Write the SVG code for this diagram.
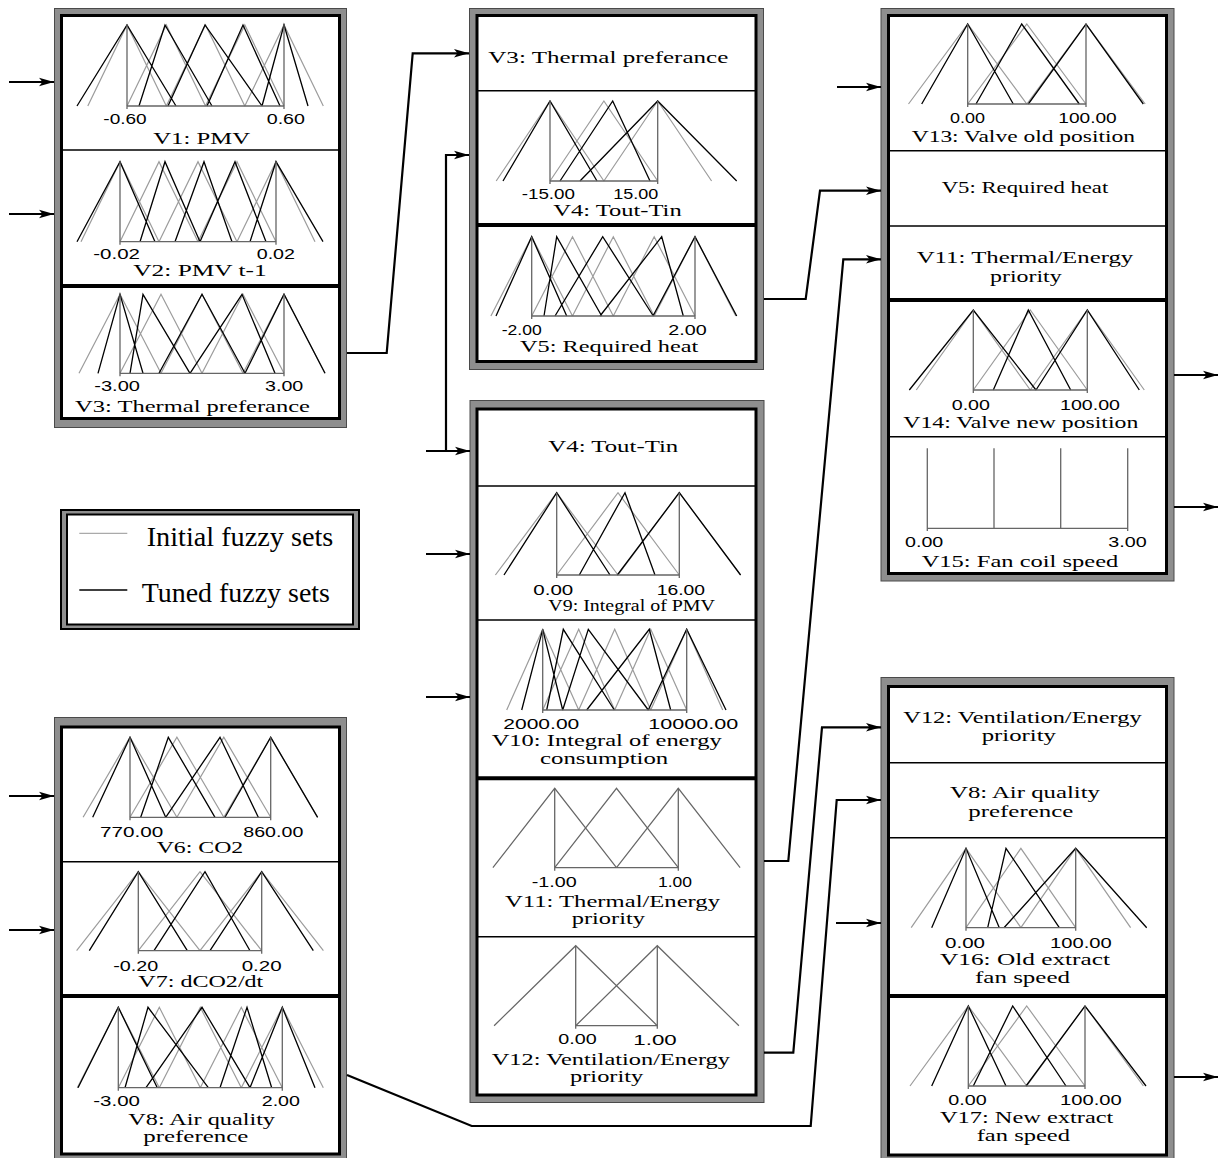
<svg xmlns="http://www.w3.org/2000/svg" width="1218" height="1158" viewBox="0 0 1218 1158">
<style>
.bg{fill:#fff}
.frame{fill:#8e8e8e;stroke:#4a4a4a;stroke-width:1}
.inner{fill:#fff;stroke:#000;stroke-width:3}
.sep{stroke:#000;stroke-width:1.5}
.sepk{stroke:#000;stroke-width:4}
.ini{fill:none;stroke:#9c9c9c;stroke-width:1.2}
.ini2{fill:none;stroke:#666;stroke-width:1.2}
.tun{fill:none;stroke:#000;stroke-width:1.3}
.ax{fill:none;stroke:#666;stroke-width:1.3}
.conn{fill:none;stroke:#000;stroke-width:2.2}
.t{font-family:"Liberation Serif","Times New Roman",serif;font-size:17px;fill:#000}
.n{font-family:"Liberation Sans",Arial,sans-serif;font-size:14px;fill:#000}
.lg{font-family:"Liberation Serif","Times New Roman",serif;font-size:27px;fill:#000}
</style>
<defs>
<marker id="ah" markerUnits="userSpaceOnUse" markerWidth="16" markerHeight="10" refX="15" refY="5" orient="auto"><path d="M0,0.8 L15,5 L0,9.2 L3.5,5 Z" fill="#000"/></marker>
</defs>
<rect class="bg" x="0" y="0" width="1218" height="1158"/>

<g id="module-inputs-thermal">
<rect class="frame" x="54.5" y="8.5" width="292" height="419"/>
<rect class="inner" x="61.5" y="15.5" width="278" height="403"/>
<line class="sep" x1="61.5" y1="150" x2="339.5" y2="150"/>
<line class="sepk" x1="61.5" y1="286" x2="339.5" y2="286"/>
<path class="ini" d="M87.8,106L127,25L166.3,106 M127,106L166.3,25L205.5,106 M166.3,106L205.5,25L244.8,106 M205.5,106L244.8,25L284,106 M244.8,106L284,25L323.3,106"/>
<path class="tun" d="M77,106L127,25L176,106 M139,106L165,25L212,106 M168,106L205,25L262,106 M207,106L243,25L280,106 M262,106L284,25L308,106"/>
<path class="ax" d="M127,25V109 M284,25V109 M127,106H284"/>
<path class="ini" d="M81,241.7L120,161.7L159,241.7 M120,241.7L159,161.7L198,241.7 M159,241.7L198,161.7L237,241.7 M198,241.7L237,161.7L276,241.7 M237,241.7L276,161.7L315,241.7"/>
<path class="tun" d="M77,241.7L120,161.7L155,241.7 M140,241.7L165,161.7L200,241.7 M175,241.7L204,161.7L232,241.7 M200,241.7L235,161.7L266,241.7 M250,241.7L276,161.7L323,241.7"/>
<path class="ax" d="M120,161.7V244.7 M276,161.7V244.7 M120,241.7H276"/>
<path class="ini" d="M79,373.3L120,294.3L161,373.3 M120,373.3L161,294.3L202,373.3 M161,373.3L202,294.3L243,373.3 M202,373.3L243,294.3L284,373.3 M243,373.3L284,294.3L325,373.3"/>
<path class="tun" d="M98,373.3L120,294.3L143,373.3 M130,373.3L143,294.3L190,373.3 M159,373.3L202,294.3L245,373.3 M190,373.3L242,294.3L275,373.3 M245,373.3L284,294.3L325,373.3"/>
<path class="ax" d="M120,294.3V376.3 M284,294.3V376.3 M120,373.3H284"/>
<text class="n" x="103.3" y="124" textLength="43.4" lengthAdjust="spacingAndGlyphs">-0.60</text>
<text class="n" x="266.7" y="124" textLength="38.3" lengthAdjust="spacingAndGlyphs">0.60</text>
<text class="t" x="153.3" y="144" textLength="96.7" lengthAdjust="spacingAndGlyphs">V1: PMV</text>
<text class="n" x="93.3" y="259.3" textLength="46.7" lengthAdjust="spacingAndGlyphs">-0.02</text>
<text class="n" x="256.7" y="259.3" textLength="38.3" lengthAdjust="spacingAndGlyphs">0.02</text>
<text class="t" x="133.3" y="276" textLength="133.4" lengthAdjust="spacingAndGlyphs">V2: PMV t-1</text>
<text class="n" x="94.3" y="390.7" textLength="45.7" lengthAdjust="spacingAndGlyphs">-3.00</text>
<text class="n" x="265" y="390.7" textLength="38.3" lengthAdjust="spacingAndGlyphs">3.00</text>
<text class="t" x="75" y="411.7" textLength="235" lengthAdjust="spacingAndGlyphs">V3: Thermal preferance</text>
</g>

<g id="module-required-heat">
<rect class="frame" x="469.5" y="8.5" width="294" height="361"/>
<rect class="inner" x="477" y="15.5" width="279" height="346"/>
<line class="sep" x1="477" y1="90.7" x2="756" y2="90.7"/>
<line class="sepk" x1="477" y1="225" x2="756" y2="225"/>
<path class="ini" d="M496.2,181L550,101L603.9,181 M550,181L603.9,101L657.7,181 M603.9,181L657.7,101L711.6,181"/>
<path class="tun" d="M503,181L550,101L597,181 M560,181L612.7,101L650,181 M580,181L657.7,101L736.7,181"/>
<path class="ax" d="M550,101V184 M657.7,101V184 M550,181H657.7"/>
<path class="ini" d="M490.9,316L531.7,236.7L572.5,316 M531.7,316L572.5,236.7L613.3,316 M572.5,316L613.3,236.7L654.2,316 M613.3,316L654.2,236.7L695,316 M654.2,316L695,236.7L735.8,316"/>
<path class="tun" d="M496,316L531.7,236.7L566.7,316 M544,316L556.7,236.7L601.7,316 M555,316L602.7,236.7L653.3,316 M600,316L661.7,236.7L683.3,316 M653,316L695,236.7L736.7,316"/>
<path class="ax" d="M531.7,236.7V319 M695,236.7V319 M531.7,316H695"/>
<text class="t" x="488.3" y="62.7" textLength="240" lengthAdjust="spacingAndGlyphs">V3: Thermal preferance</text>
<text class="n" x="521.7" y="199.3" textLength="53.3" lengthAdjust="spacingAndGlyphs">-15.00</text>
<text class="n" x="613.3" y="199.3" textLength="45" lengthAdjust="spacingAndGlyphs">15.00</text>
<text class="t" x="553.3" y="216" textLength="128.4" lengthAdjust="spacingAndGlyphs">V4: Tout-Tin</text>
<text class="n" x="501.7" y="335" textLength="40" lengthAdjust="spacingAndGlyphs">-2.00</text>
<text class="n" x="668.3" y="335" textLength="38.4" lengthAdjust="spacingAndGlyphs">2.00</text>
<text class="t" x="520" y="351.7" textLength="178.3" lengthAdjust="spacingAndGlyphs">V5: Required heat</text>
</g>

<g id="module-priorities">
<rect class="frame" x="470" y="400.5" width="294" height="702"/>
<rect class="inner" x="477" y="409" width="279" height="686"/>
<line class="sep" x1="477" y1="486" x2="756" y2="486"/>
<line class="sep" x1="477" y1="620" x2="756" y2="620"/>
<line class="sepk" x1="477" y1="778.3" x2="756" y2="778.3"/>
<line class="sep" x1="477" y1="936.7" x2="756" y2="936.7"/>
<path class="ini" d="M495.4,575L556.7,492.7L618,575 M556.7,575L618,492.7L679.3,575 M618,575L679.3,492.7L740.6,575"/>
<path class="tun" d="M504,575L556.7,492.7L610,575 M579.3,575L625,492.7L655,575 M617.3,575L679.3,492.7L740.6,575"/>
<path class="ax" d="M556.7,492.7V578 M679.3,492.7V578 M556.7,575H679.3"/>
<path class="ini" d="M506.7,710L542.7,629.3L578.7,710 M542.7,710L578.7,629.3L614.7,710 M578.7,710L614.7,629.3L650.7,710 M614.7,710L650.7,629.3L686.7,710 M650.7,710L686.7,629.3L722.7,710"/>
<path class="tun" d="M521.7,710L542.7,629.3L562.7,710 M546.7,710L563.3,629.3L614.3,710 M562.7,710L588.3,629.3L648.3,710 M586.7,710L649.3,629.3L670.7,710 M648.3,710L686.7,629.3L726,710"/>
<path class="ax" d="M542.7,629.3V713 M686.7,629.3V713 M542.7,710H686.7"/>
<path class="ini2" d="M492.9,867.7L554.7,788.3L616.5,867.7 M554.7,867.7L616.5,788.3L678.3,867.7 M616.5,867.7L678.3,788.3L740.1,867.7"/>
<path class="ax" d="M554.7,788.3V870.7 M678.3,788.3V870.7 M554.7,867.7H678.3"/>
<path class="ini2" d="M494.1,1025.7L575.7,945.7L657.3,1025.7 M575.7,1025.7L657.3,945.7L738.9,1025.7"/>
<path class="ax" d="M575.7,945.7V1028.7 M657.3,945.7V1028.7 M575.7,1025.7H657.3"/>
<text class="t" x="548.3" y="452.3" textLength="130" lengthAdjust="spacingAndGlyphs">V4: Tout-Tin</text>
<text class="n" x="533.3" y="595" textLength="40" lengthAdjust="spacingAndGlyphs">0.00</text>
<text class="n" x="656.7" y="595" textLength="48.3" lengthAdjust="spacingAndGlyphs">16.00</text>
<text class="t" x="548.3" y="610.7" textLength="166.7" lengthAdjust="spacingAndGlyphs">V9: Integral of PMV</text>
<text class="n" x="503.3" y="729" textLength="76" lengthAdjust="spacingAndGlyphs">2000.00</text>
<text class="n" x="648.3" y="729" textLength="90" lengthAdjust="spacingAndGlyphs">10000.00</text>
<text class="t" x="491.7" y="746" textLength="230" lengthAdjust="spacingAndGlyphs">V10: Integral of energy</text>
<text class="t" x="540" y="764" textLength="128.3" lengthAdjust="spacingAndGlyphs">consumption</text>
<text class="n" x="531.7" y="886.7" textLength="45" lengthAdjust="spacingAndGlyphs">-1.00</text>
<text class="n" x="658" y="886.7" textLength="34" lengthAdjust="spacingAndGlyphs">1.00</text>
<text class="t" x="505" y="906.7" textLength="215" lengthAdjust="spacingAndGlyphs">V11: Thermal/Energy</text>
<text class="t" x="571.7" y="923.5" textLength="73.3" lengthAdjust="spacingAndGlyphs">priority</text>
<text class="n" x="558.3" y="1044" textLength="38.4" lengthAdjust="spacingAndGlyphs">0.00</text>
<text class="n" x="633.3" y="1045" textLength="43.4" lengthAdjust="spacingAndGlyphs">1.00</text>
<text class="t" x="491.7" y="1065" textLength="238.3" lengthAdjust="spacingAndGlyphs">V12: Ventilation/Energy</text>
<text class="t" x="570" y="1081.7" textLength="73.3" lengthAdjust="spacingAndGlyphs">priority</text>
</g>

<g id="module-valve-fancoil">
<rect class="frame" x="881" y="8.5" width="293" height="572.5"/>
<rect class="inner" x="888.5" y="15.5" width="278" height="558"/>
<line class="sep" x1="888.5" y1="150.7" x2="1166.5" y2="150.7"/>
<line class="sep" x1="888.5" y1="226" x2="1166.5" y2="226"/>
<line class="sepk" x1="888.5" y1="300" x2="1166.5" y2="300"/>
<line class="sep" x1="888.5" y1="436.7" x2="1166.5" y2="436.7"/>
<path class="ini" d="M908.5,104L967.7,24L1026.8,104 M967.7,104L1026.8,24L1086,104 M1026.8,104L1086,24L1145.2,104"/>
<path class="tun" d="M921.7,104L967.7,24L1013.3,104 M976,104L1021.7,24L1079.3,104 M1028.3,104L1086,24L1143.3,104"/>
<path class="ax" d="M967.7,24V107 M1086,24V107 M967.7,104H1086"/>
<path class="ini" d="M916.3,390L973.3,310L1030.3,390 M973.3,390L1030.3,310L1087.3,390 M1030.3,390L1087.3,310L1144.3,390"/>
<path class="tun" d="M909.3,390L973.3,310L1036,390 M993.3,390L1028.3,310L1070.7,390 M1036,390L1087.3,310L1139.3,390"/>
<path class="ax" d="M973.3,310V393 M1087.3,310V393 M973.3,390H1087.3"/>
<path class="ax" d="M927.3,448.3V531 M994,448.3V528.3 M1060.7,448.3V528.3 M1127.7,448.3V531 M927.3,528.3H1127.7"/>
<text class="n" x="950" y="122.7" textLength="35" lengthAdjust="spacingAndGlyphs">0.00</text>
<text class="n" x="1058.3" y="122.7" textLength="58.4" lengthAdjust="spacingAndGlyphs">100.00</text>
<text class="t" x="911.7" y="141.7" textLength="223.3" lengthAdjust="spacingAndGlyphs">V13: Valve old position</text>
<text class="t" x="941.7" y="192.7" textLength="166.6" lengthAdjust="spacingAndGlyphs">V5: Required heat</text>
<text class="t" x="916.7" y="263.3" textLength="216.6" lengthAdjust="spacingAndGlyphs">V11: Thermal/Energy</text>
<text class="t" x="990" y="281.7" textLength="71.7" lengthAdjust="spacingAndGlyphs">priority</text>
<text class="n" x="951.7" y="410" textLength="38.3" lengthAdjust="spacingAndGlyphs">0.00</text>
<text class="n" x="1060" y="410" textLength="60" lengthAdjust="spacingAndGlyphs">100.00</text>
<text class="t" x="903.3" y="428.3" textLength="235" lengthAdjust="spacingAndGlyphs">V14: Valve new position</text>
<text class="n" x="905" y="547.3" textLength="38.3" lengthAdjust="spacingAndGlyphs">0.00</text>
<text class="n" x="1108.3" y="547.3" textLength="38.4" lengthAdjust="spacingAndGlyphs">3.00</text>
<text class="t" x="921.7" y="566.7" textLength="196.6" lengthAdjust="spacingAndGlyphs">V15: Fan coil speed</text>
</g>

<g id="module-extract-fan">
<rect class="frame" x="881" y="677.5" width="293" height="490"/>
<rect class="inner" x="888.5" y="686.5" width="278" height="468.5"/>
<line class="sep" x1="888.5" y1="762.7" x2="1166.5" y2="762.7"/>
<line class="sep" x1="888.5" y1="837.7" x2="1166.5" y2="837.7"/>
<line class="sepk" x1="888.5" y1="996" x2="1166.5" y2="996"/>
<path class="ini" d="M911.2,927.7L966,848.3L1020.9,927.7 M966,927.7L1020.9,848.3L1075.7,927.7 M1020.9,927.7L1075.7,848.3L1130.6,927.7"/>
<path class="tun" d="M931.7,927.7L966,848.3L999.3,927.7 M987.7,927.7L1006,848.3L1059.3,927.7 M1004,927.7L1075.7,848.3L1146.7,927.7"/>
<path class="ax" d="M966,848.3V930.7 M1075.7,848.3V930.7 M966,927.7H1075.7"/>
<path class="ini" d="M910,1086L968.3,1006L1026.7,1086 M968.3,1086L1026.7,1006L1085,1086 M1026.7,1086L1085,1006L1143.4,1086"/>
<path class="tun" d="M931.7,1086L968.3,1006L1006,1086 M973.3,1086L1012.7,1006L1066,1086 M1026,1086L1085,1006L1146,1086"/>
<path class="ax" d="M968.3,1006V1089 M1085,1006V1089 M968.3,1086H1085"/>
<text class="t" x="903.3" y="723.3" textLength="238.4" lengthAdjust="spacingAndGlyphs">V12: Ventilation/Energy</text>
<text class="t" x="981.7" y="740.7" textLength="74.3" lengthAdjust="spacingAndGlyphs">priority</text>
<text class="t" x="950" y="797.7" textLength="150" lengthAdjust="spacingAndGlyphs">V8: Air quality</text>
<text class="t" x="968.3" y="816.5" textLength="105" lengthAdjust="spacingAndGlyphs">preference</text>
<text class="n" x="945" y="947.7" textLength="40" lengthAdjust="spacingAndGlyphs">0.00</text>
<text class="n" x="1050" y="947.7" textLength="61.7" lengthAdjust="spacingAndGlyphs">100.00</text>
<text class="t" x="940" y="965" textLength="170" lengthAdjust="spacingAndGlyphs">V16: Old extract</text>
<text class="t" x="975" y="983.3" textLength="95" lengthAdjust="spacingAndGlyphs">fan speed</text>
<text class="n" x="948.3" y="1105" textLength="38.4" lengthAdjust="spacingAndGlyphs">0.00</text>
<text class="n" x="1060" y="1105" textLength="61.7" lengthAdjust="spacingAndGlyphs">100.00</text>
<text class="t" x="940" y="1123.3" textLength="173.3" lengthAdjust="spacingAndGlyphs">V17: New extract</text>
<text class="t" x="976.7" y="1140.7" textLength="93.3" lengthAdjust="spacingAndGlyphs">fan speed</text>
</g>

<g id="module-inputs-air">
<rect class="frame" x="54.5" y="717.5" width="292" height="450"/>
<rect class="inner" x="61.5" y="727" width="278" height="427"/>
<line class="sep" x1="61.5" y1="861.7" x2="339.5" y2="861.7"/>
<line class="sepk" x1="61.5" y1="996" x2="339.5" y2="996"/>
<path class="ini" d="M83.1,817.3L130,737.3L176.9,817.3 M130,817.3L176.9,737.3L223.8,817.3 M176.9,817.3L223.8,737.3L270.7,817.3 M223.8,817.3L270.7,737.3L317.6,817.3"/>
<path class="tun" d="M92.7,817.3L130,737.3L165.7,817.3 M140.7,817.3L168.3,737.3L215,817.3 M165.7,817.3L220,737.3L258.3,817.3 M225,817.3L270.7,737.3L317.6,817.3"/>
<path class="ax" d="M130,737.3V820.3 M270.7,737.3V820.3 M130,817.3H270.7"/>
<path class="ini" d="M76.6,950.7L138.3,871.7L200,950.7 M138.3,950.7L200,871.7L261.7,950.7 M200,950.7L261.7,871.7L323.4,950.7"/>
<path class="tun" d="M89.3,950.7L138.3,871.7L187.3,950.7 M154,950.7L205,871.7L250,950.7 M210,950.7L261.7,871.7L313.3,950.7"/>
<path class="ax" d="M138.3,871.7V953.7 M261.7,871.7V953.7 M138.3,950.7H261.7"/>
<path class="ini" d="M77.3,1087.7L118.3,1007.3L159.3,1087.7 M118.3,1087.7L159.3,1007.3L200.3,1087.7 M159.3,1087.7L200.3,1007.3L241.3,1087.7 M200.3,1087.7L241.3,1007.3L282.3,1087.7 M241.3,1087.7L282.3,1007.3L323.3,1087.7"/>
<path class="tun" d="M78,1087.7L118.3,1007.3L157.3,1087.7 M125,1087.7L148,1007.3L208.3,1087.7 M146,1087.7L202,1007.3L250,1087.7 M220,1087.7L247,1007.3L271.7,1087.7 M250,1087.7L282.3,1007.3L315,1087.7"/>
<path class="ax" d="M118.3,1007.3V1090.7 M282.3,1007.3V1090.7 M118.3,1087.7H282.3"/>
<text class="n" x="100" y="836.7" textLength="63.3" lengthAdjust="spacingAndGlyphs">770.00</text>
<text class="n" x="243.3" y="836.7" textLength="60" lengthAdjust="spacingAndGlyphs">860.00</text>
<text class="t" x="156.7" y="852.7" textLength="86.6" lengthAdjust="spacingAndGlyphs">V6: CO2</text>
<text class="n" x="113.3" y="970.7" textLength="45" lengthAdjust="spacingAndGlyphs">-0.20</text>
<text class="n" x="241.7" y="970.7" textLength="40" lengthAdjust="spacingAndGlyphs">0.20</text>
<text class="t" x="138.3" y="987.3" textLength="125" lengthAdjust="spacingAndGlyphs">V7: dCO2/dt</text>
<text class="n" x="93.3" y="1106" textLength="46.7" lengthAdjust="spacingAndGlyphs">-3.00</text>
<text class="n" x="261.7" y="1106" textLength="38.3" lengthAdjust="spacingAndGlyphs">2.00</text>
<text class="t" x="128.3" y="1124.5" textLength="146.7" lengthAdjust="spacingAndGlyphs">V8: Air quality</text>
<text class="t" x="143.3" y="1141.5" textLength="105" lengthAdjust="spacingAndGlyphs">preference</text>
</g>

<g id="legend">
<rect x="61" y="510" width="298" height="119" fill="#8e8e8e" stroke="#000" stroke-width="2"/>
<rect x="67" y="514.5" width="286" height="110" fill="#fff" stroke="#000" stroke-width="2"/>
<line x1="79.3" y1="533.3" x2="127.3" y2="533.3" stroke="#aaa" stroke-width="1.3"/>
<line x1="79.3" y1="590" x2="127.3" y2="590" stroke="#000" stroke-width="1.3"/>
<text class="lg" x="146.7" y="546" textLength="186.6" lengthAdjust="spacingAndGlyphs">Initial fuzzy sets</text>
<text class="lg" x="141.7" y="601.7" textLength="188.3" lengthAdjust="spacingAndGlyphs">Tuned fuzzy sets</text>
</g>

<g id="connectors">
<line class="conn" x1="9" y1="82" x2="54" y2="82" marker-end="url(#ah)"/>
<line class="conn" x1="9" y1="214" x2="54" y2="214" marker-end="url(#ah)"/>
<line class="conn" x1="9" y1="796" x2="54" y2="796" marker-end="url(#ah)"/>
<line class="conn" x1="9" y1="930" x2="54" y2="930" marker-end="url(#ah)"/>
<polyline class="conn" points="347,353 386.7,353 412.7,53.3 469,53.3" marker-end="url(#ah)"/>
<polyline class="conn" points="446,451 446,155 469,155" marker-end="url(#ah)"/>
<line class="conn" x1="426" y1="451" x2="470" y2="451" marker-end="url(#ah)"/>
<line class="conn" x1="426" y1="554" x2="470" y2="554" marker-end="url(#ah)"/>
<line class="conn" x1="426" y1="697" x2="470" y2="697" marker-end="url(#ah)"/>
<polyline class="conn" points="764,299 805.7,299 820,190.7 881,190.7" marker-end="url(#ah)"/>
<line class="conn" x1="837" y1="87" x2="881" y2="87" marker-end="url(#ah)"/>
<polyline class="conn" points="764,861 788.3,861 843.3,259.3 881,259.3" marker-end="url(#ah)"/>
<polyline class="conn" points="764,1052.7 793.3,1052.7 822,727.3 881,727.3" marker-end="url(#ah)"/>
<polyline class="conn" points="347,1075 471.7,1126 810.7,1126 836.7,800 881,800" marker-end="url(#ah)"/>
<line class="conn" x1="836" y1="923" x2="881" y2="923" marker-end="url(#ah)"/>
<line class="conn" x1="1174" y1="375" x2="1218" y2="375" marker-end="url(#ah)"/>
<line class="conn" x1="1174" y1="507" x2="1218" y2="507" marker-end="url(#ah)"/>
<line class="conn" x1="1174" y1="1077" x2="1218" y2="1077" marker-end="url(#ah)"/>
</g>
</svg>
